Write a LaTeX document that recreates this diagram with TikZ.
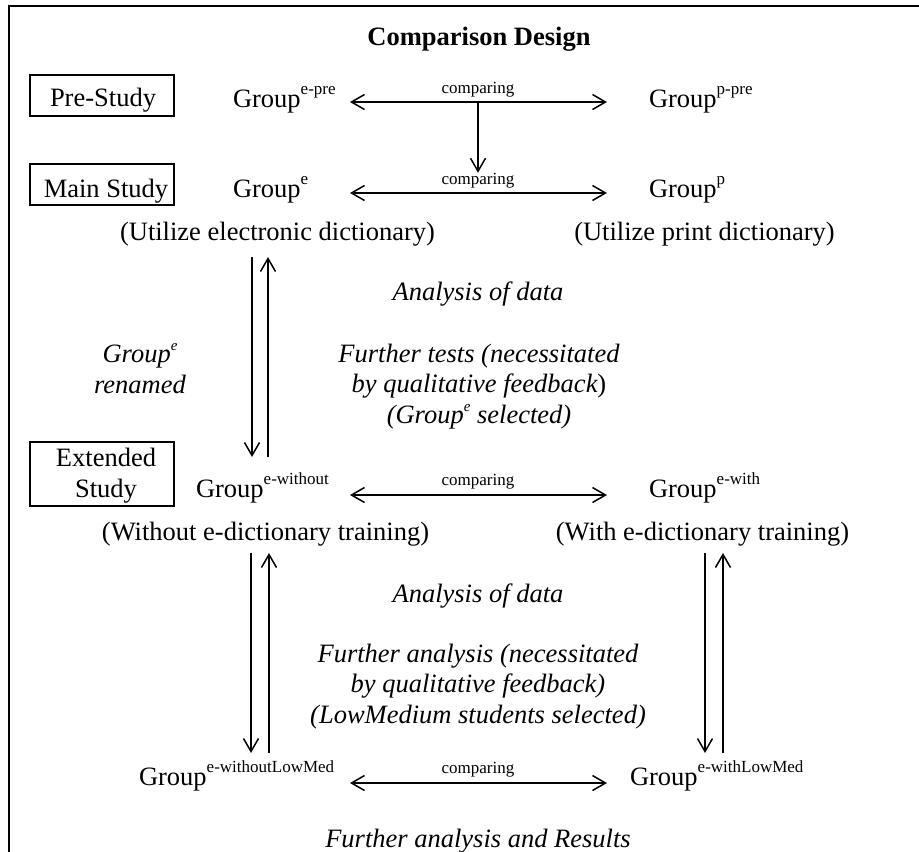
\documentclass[tikz,border=0pt]{standalone}
\usepackage{fontspec}
\setmainfont{Liberation Serif}
\usetikzlibrary{arrows.meta}
\newcommand\szBig{\fontsize{26.5}{30.5}\selectfont}
\newcommand\szSmall{\fontsize{17}{17}\selectfont}
\newcommand\supG[1]{\raisebox{13pt}{\szSmall #1}}
\newcommand\supGi[1]{\raisebox{12pt}{\fontsize{15}{15}\selectfont #1}}
\begin{document}
\begin{tikzpicture}[x=1pt,y=-1pt,
  every node/.style={inner sep=0pt, outer sep=0pt},
  rm/.style={anchor=base, font=\szBig},
  grp/.style={anchor=base west, font=\szBig},
  itx/.style={anchor=base, font=\szBig\itshape, align=center},
  cmp/.style={anchor=base, font=\szSmall},
  box/.style={draw, line width=1.5pt, anchor=north west, minimum width=144pt},
  arr/.style={line width=1.5pt},
  >={Straight Barb[length=13pt,width=15pt]}]
\useasboundingbox (0,0) rectangle (919,852);
% frame
\draw[line width=2pt] (9,852) -- (9,6) -- (919,6);
% title
\node[rm, font=\szBig\bfseries] (title) at (479,45) {Comparison Design};
% study boxes
\node[box, minimum height=41pt] (prebox) at (30,75) {};
\node[rm] (pretxt) at (103,106) {Pre-Study};
\node[box, minimum height=41pt] (mainbox) at (30,164) {};
\node[rm] (maintxt) at (106,197) {Main Study};
\node[box, minimum height=64pt] (extbox) at (30,442) {};
\node[rm, align=center] (exttxt) at (106,497) {Extended\\Study};
% pre study row
\node[grp] (gepre) at (233,107) {Group\supG{e-pre}};
\node[grp] (gppre) at (649,107) {Group\supG{p-pre}};
\node[cmp] (c1) at (478,93) {comparing};
\coordinate (a1l) at (350,102);
\coordinate (a1r) at (607,102);
\coordinate (a1m) at (478,102);
\draw[arr,<->] (a1l) -- (a1r);
% main study row
\node[grp] (ge) at (233,197) {Group\supG{e}};
\node[grp] (gp) at (649,197) {Group\supG{p}};
\node[cmp] (c2) at (478,184) {comparing};
\coordinate (a2l) at (350,193);
\coordinate (a2r) at (607,193);
\draw[arr,<->] (a2l) -- (a2r);
\draw[arr,->] (a1m) -- (c2.north);
\node[rm] (ued) at (277.5,240) {(Utilize electronic dictionary)};
\node[rm] (upd) at (704.5,240) {(Utilize print dictionary)};
% analysis block 1
\node[itx] (ana1) at (478,300) {Analysis of data};
\node[itx] (ren) at (140,393) {Group\supGi{e}\\renamed};
\node[itx] (ft) at (479,423) {Further tests (necessitated\\by qualitative feedback{\upshape)}\\(Group\supGi{e} selected)};
\coordinate (v1dt) at (252,257);
\coordinate (v1db) at (252,457);
\coordinate (v1ut) at (268,257);
\coordinate (v1ub) at (268,457);
\draw[arr,->] (v1dt) -- (v1db);
\draw[arr,->] (v1ub) -- (v1ut);
% extended study row
\node[grp] (gew) at (196,497) {Group\supG{e-without}};
\node[grp] (gewith) at (649,497) {Group\supG{e-with}};
\node[cmp] (c3) at (478,485) {comparing};
\coordinate (a3l) at (350,495);
\coordinate (a3r) at (607,495);
\draw[arr,<->] (a3l) -- (a3r);
\node[rm] (wo) at (265.5,540) {(Without e-dictionary training)};
\node[rm] (wi) at (702.5,540) {(With e-dictionary training)};
% analysis block 2
\node[itx] (ana2) at (478,602) {Analysis of data};
\node[itx] (fa) at (478,723) {Further analysis (necessitated\\by qualitative feedback)\\(LowMedium students selected)};
\coordinate (v2dt) at (251,553);
\coordinate (v2db) at (251,753);
\coordinate (v2ut) at (269,553);
\coordinate (v2ub) at (269,753);
\draw[arr,->] (v2dt) -- (v2db);
\draw[arr,->] (v2ub) -- (v2ut);
\coordinate (v3dt) at (705,553);
\coordinate (v3db) at (705,753);
\coordinate (v3ut) at (723,553);
\coordinate (v3ub) at (723,753);
\draw[arr,->] (v3dt) -- (v3db);
\draw[arr,->] (v3ub) -- (v3ut);
% lowmed row
\node[grp] (gwol) at (139,785) {Group\supG{e-withoutLowMed}};
\node[grp] (gwl) at (630,785) {Group\supG{e-withLowMed}};
\node[cmp] (c4) at (478,773) {comparing};
\coordinate (a4l) at (350,783);
\coordinate (a4r) at (607,783);
\draw[arr,<->] (a4l) -- (a4r);
\node[itx] (res) at (478,847) {Further analysis and Results};
\end{tikzpicture}
\end{document}
